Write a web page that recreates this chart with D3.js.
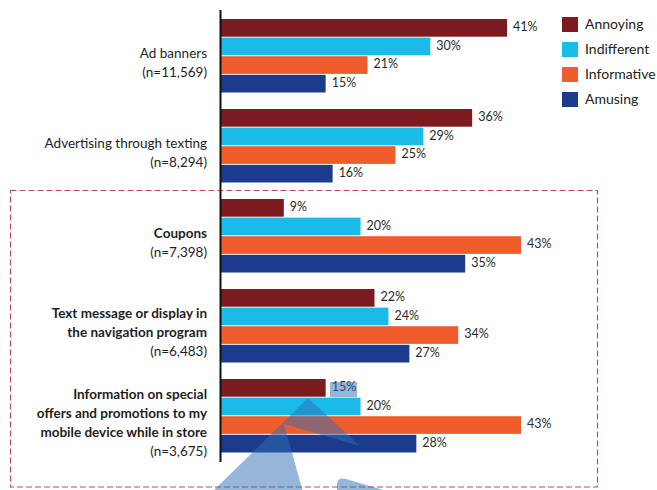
<!DOCTYPE html>
<html>
<head>
<meta charset="utf-8">
<script src="https://cdn.jsdelivr.net/npm/d3@7"></script>
<style>
    body { margin: 0; background: #fff; }
    svg { display: block; font-family: Lato, "Open Sans", sans-serif; }
</style>
</head>
<body>
<svg id="chart" width="657" height="490"></svg>
<script>
// chart data
const categories = ["Ad banners", "Advertising through texting", "Coupons",
    "Text message or display in the navigation program",
    "Information on special offers and promotions to my mobile device while in store"];
const labelLines = [
    ["Ad banners"],
    ["Advertising through texting"],
    ["Coupons"],
    ["Text message or display in", "the navigation program"],
    ["Information on special", "offers and promotions to my", "mobile device while in store"]
];
const sampleSizes = ["(n=11,569)", "(n=8,294)", "(n=7,398)", "(n=6,483)", "(n=3,675)"];
const boldGroups = [false, false, true, true, true];
const series = ["Annoying", "Indifferent", "Informative", "Amusing"];
const annoying = [41, 36, 9, 22, 15];
const indifferent = [30, 29, 20, 24, 20];
const informative = [21, 25, 43, 34, 43];
const amusing = [15, 16, 35, 27, 28];
const colors = ["#7b1a1f", "#1bbbe9", "#ef5d2c", "#1d3b8c"];

const values = [annoying, indifferent, informative, amusing];
const rows = [];
categories.forEach((c, i) => {
    series.forEach((s, j) => rows.push({ cat: c, series: s, value: values[j][i] }));
});

const svg = d3.select("#chart");

// scales
const x = d3.scaleLinear().domain([0, 43]).range([221, 521]);
const y0 = d3.scaleBand().domain(categories).range([19, 452.5]).paddingInner(0.1833);
const y1 = d3.scaleBand().domain(series).range([0, y0.bandwidth()]).paddingInner(0.05);
const color = d3.scaleOrdinal().domain(series).range(colors);

// dashed box around the last three items
svg.append("rect")
    .attr("x", 10.5).attr("y", 190.5)
    .attr("width", 587).attr("height", 296.5)
    .attr("fill", "none")
    .attr("stroke", "#bd4a5e")
    .attr("stroke-width", 1.2)
    .attr("stroke-dasharray", "6,3");

// bars
svg.append("g").selectAll("rect")
    .data(rows)
    .join("rect")
    .attr("x", x(0))
    .attr("y", d => y0(d.cat) + y1(d.series))
    .attr("width", d => x(d.value) - x(0))
    .attr("height", y1.bandwidth())
    .attr("fill", d => color(d.series));

// value labels
svg.append("g").selectAll("text")
    .data(rows)
    .join("text")
    .attr("x", d => x(d.value) + 6)
    .attr("y", d => y0(d.cat) + y1(d.series) + y1.bandwidth() / 2 - 1)
    .attr("dy", "0.35em")
    .attr("font-size", 12.5)
    .attr("fill", "#2a2a2a")
    .text(d => d.value + "%");

// vertical axis line
svg.append("line")
    .attr("x1", 220.5).attr("x2", 220.5)
    .attr("y1", 10).attr("y2", 462)
    .attr("stroke", "#111")
    .attr("stroke-width", 2);

// category labels
const lineH = 19;
categories.forEach((c, i) => {
    const lines = labelLines[i].map(t => ({ t, bold: boldGroups[i] }))
        .concat([{ t: sampleSizes[i], bold: false }]);
    const mid = y0(c) + y0.bandwidth() / 2 + 7;
    const top = mid - (lines.length - 1) * lineH / 2;
    svg.append("g").selectAll("text")
        .data(lines)
        .join("text")
        .attr("x", 207)
        .attr("y", (d, k) => top + k * lineH)
        .attr("dy", "0.35em")
        .attr("text-anchor", "end")
        .attr("font-size", 13.5)
        .attr("font-weight", d => d.bold ? "bold" : "normal")
        .attr("fill", "#1e1e1e")
        .text(d => d.t);
});

// legend
const legend = svg.append("g").selectAll("g")
    .data(series)
    .join("g")
    .attr("transform", (d, i) => `translate(562, ${17 + i * 25})`);
legend.append("rect")
    .attr("width", 16).attr("height", 15)
    .attr("fill", d => color(d));
legend.append("text")
    .attr("x", 23).attr("y", 7.5)
    .attr("dy", "0.35em")
    .attr("font-size", 14)
    .attr("fill", "#222")
    .text(d => d);

// translucent blue pointer overlay seen in the picture
const overlay = svg.append("g").attr("fill", "#2e6db3").attr("fill-opacity", 0.5);
overlay.append("rect")
    .attr("x", 330).attr("y", 382).attr("width", 27).attr("height", 15);
overlay.append("path")
    .attr("d", "M308,398 L360,446 L284,424 L303,492 L212,492 Z");
overlay.append("path")
    .attr("d", "M337,492 L337,484 Q338,477 346,479 L390,492 Z");
</script>
</body>
</html>
